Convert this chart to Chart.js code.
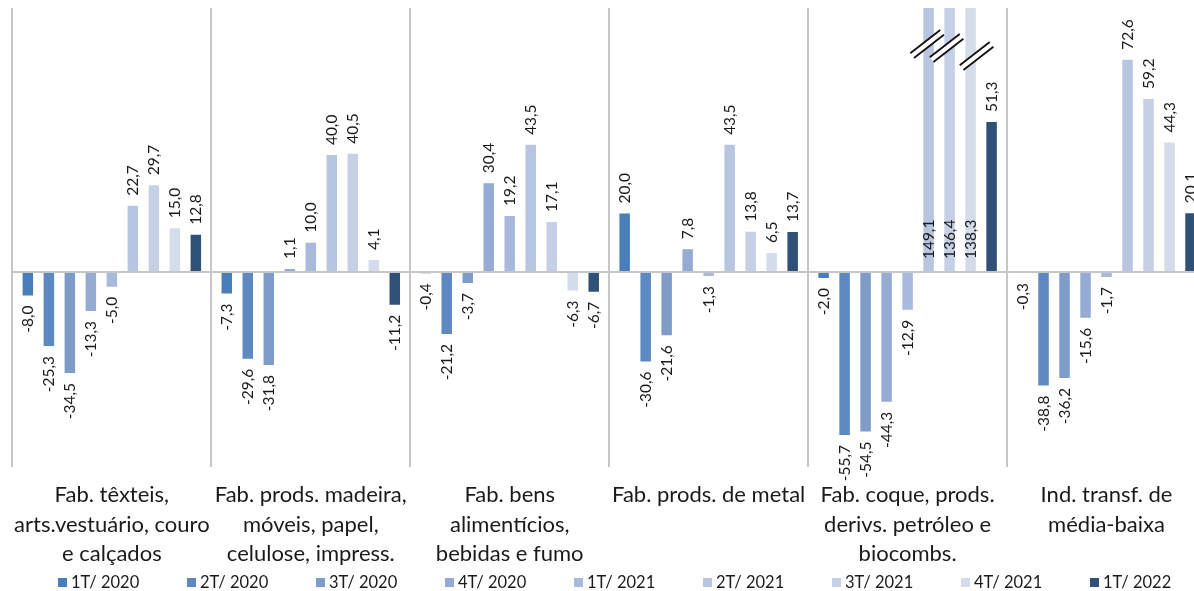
<!DOCTYPE html>
<html>
<head>
<meta charset="utf-8">
<script src="https://cdn.jsdelivr.net/npm/chart.js@4.4.0/dist/chart.umd.min.js"></script>
<style>
  html, body { margin: 0; padding: 0; background: #fff; overflow: hidden; }
  #wrap { position: relative; width: 1194px; height: 591px; overflow: hidden; }
  #box { position: absolute; left: 0; top: 0; width: 1230px; height: 591px; }
  #legend { position: absolute; left: 58px; top: 572px; display: flex; font-family: Lato; font-size: 16.5px; color: #1a1a1a; white-space: nowrap; }
  .item { width: 129px; height: 20px; display: flex; align-items: center; }
  .sw { width: 9px; height: 9px; margin-right: 4px; flex: none; }
</style>
</head>
<body>
<div id="wrap">
  <div id="box"><canvas id="chart" width="1230" height="591"></canvas></div>
  <div id="legend"></div>
</div>
<script>
const sectors = [
    ['Fab. têxteis,', 'arts.vestuário, couro', 'e calçados'],
    ['Fab. prods. madeira,', 'móveis, papel,', 'celulose, impress.'],
    ['Fab. bens', 'alimentícios,', 'bebidas e fumo'],
    ['Fab. prods. de metal'],
    ['Fab. coque, prods.', 'derivs. petróleo e', 'biocombs.'],
    ['Ind. transf. de', 'média-baixa']
]

const periods = ['1T/ 2020', '2T/ 2020', '3T/ 2020', '4T/ 2020', '1T/ 2021', '2T/ 2021', '3T/ 2021', '4T/ 2021', '1T/ 2022']

// one array per quarter, in sector order
const q1_2020 = [-8.0, -7.3, -0.4, 20.0, -2.0, -0.3]
const q2_2020 = [-25.3, -29.6, -21.2, -30.6, -55.7, -38.8]
const q3_2020 = [-34.5, -31.8, -3.7, -21.6, -54.5, -36.2]
const q4_2020 = [-13.3, 1.1, 30.4, 7.8, -44.3, -15.6]
const q1_2021 = [-5.0, 10.0, 19.2, -1.3, -12.9, -1.7]
const q2_2021 = [22.7, 40.0, 43.5, 43.5, 149.1, 72.6]
const q3_2021 = [29.7, 40.5, 17.1, 13.8, 136.4, 59.2]
const q4_2021 = [15.0, 4.1, -6.3, 6.5, 138.3, 44.3]
const q1_2022 = [12.8, -11.2, -6.7, 13.7, 51.3, 20.1]

const quarters = [q1_2020, q2_2020, q3_2020, q4_2020, q1_2021, q2_2021, q3_2021, q4_2021, q1_2022]
const colors = ['#4a7ebb', '#5d88c1', '#7f9cc9', '#95abd3', '#a8b9db', '#b8c5e0', '#c5cfe5', '#d4dbea', '#2f5077']

// axis is cut at the top, the coke/petroleum bars go off scale
const yMin = -66.6
const yMax = 90.3

const fmt = v => v.toFixed(1).replace('.', ',')

// value labels, turned 90 degrees, above/below each bar
const barLabels = {
    id: 'barLabels',
    afterDatasetsDraw(chart) {
        const ctx = chart.ctx
        ctx.save()
        ctx.font = '15.5px Lato'
        ctx.fillStyle = '#1a1a1a'
        ctx.textBaseline = 'middle'
        chart.data.datasets.forEach((ds, i) => {
            chart.getDatasetMeta(i).data.forEach((bar, j) => {
                const v = ds.data[j]
                let y, align
                if (v > yMax) {
                    y = bar.base - 12
                    align = 'left'
                } else if (v >= 0) {
                    y = bar.y - 10
                    align = 'left'
                } else {
                    y = bar.y + 10
                    align = 'right'
                }
                ctx.save()
                ctx.translate(bar.x, y)
                ctx.rotate(-Math.PI / 2)
                ctx.textAlign = align
                ctx.fillText(fmt(v), 0, 0)
                ctx.restore()
            })
        })
        ctx.restore()
    }
}

// little double-slash marks on the bars that run past the top
const breakMarks = {
    id: 'breakMarks',
    afterDatasetsDraw(chart) {
        const ctx = chart.ctx
        const top = chart.chartArea.top
        const shiftX = [-1.5, -3, 6]
        const shiftY = [36, 40, 48]
        let k = 0
        chart.data.datasets.forEach((ds, i) => {
            chart.getDatasetMeta(i).data.forEach((bar, j) => {
                if (ds.data[j] <= yMax) return
                const n = Math.min(k, 2)
                drawBreak(ctx, bar.x + shiftX[n], top + shiftY[n])
                k++
            })
        })
    }
}

function drawBreak(ctx, cx, cy) {
    const ang = 38 * Math.PI / 180
    const half = 19
    const dx = Math.cos(ang) * half, dy = Math.sin(ang) * half
    const nx = Math.sin(ang) * 3, ny = Math.cos(ang) * 3
    ctx.save()
    ctx.lineCap = 'butt'
    ctx.strokeStyle = '#fff'
    ctx.lineWidth = 6
    ctx.beginPath()
    ctx.moveTo(cx - dx, cy + dy)
    ctx.lineTo(cx + dx, cy - dy)
    ctx.stroke()
    ctx.strokeStyle = '#111'
    ctx.lineWidth = 1.8
    for (const s of [-1, 1]) {
        ctx.beginPath()
        ctx.moveTo(cx - dx + s * nx, cy + dy + s * ny)
        ctx.lineTo(cx + dx + s * nx, cy - dy + s * ny)
        ctx.stroke()
    }
    ctx.restore()
}

const datasets = quarters.map((values, i) => ({
    label: periods[i],
    data: values,
    backgroundColor: colors[i],
    borderWidth: 0,
    categoryPercentage: 0.95,
    barPercentage: 0.5
}))

const ctx = document.getElementById('chart').getContext('2d')
const myChart = new Chart(ctx, {
    type: 'bar',
    data: { labels: sectors, datasets: datasets },
    options: {
        responsive: false,
        animation: false,
        events: [],
        layout: { padding: { left: 1, right: 24, top: 8, bottom: 9 } },
        plugins: {
            legend: { display: false },
            tooltip: { enabled: false }
        },
        scales: {
            x: {
                border: { display: false },
                grid: { color: '#c6c6c6', lineWidth: 2, drawTicks: false },
                ticks: {
                    autoSkip: false,
                    maxRotation: 0,
                    padding: 14,
                    color: '#1a1a1a',
                    font: { family: 'Lato', size: 22, lineHeight: 1.32 }
                }
            },
            y: {
                min: yMin,
                max: yMax,
                border: { display: false },
                grid: {
                    drawTicks: false,
                    lineWidth: 2,
                    color: c => (c.tick && c.tick.value === 0) ? '#c6c6c6' : 'rgba(0,0,0,0)'
                },
                ticks: { display: false, stepSize: 10 }
            }
        }
    },
    plugins: [barLabels, breakMarks]
})

// legend as a plain row under the canvas
const legend = document.getElementById('legend')
periods.forEach((p, i) => {
    const item = document.createElement('div')
    item.className = 'item'
    const sw = document.createElement('span')
    sw.className = 'sw'
    sw.style.background = colors[i]
    const txt = document.createElement('span')
    txt.textContent = p
    item.appendChild(sw)
    item.appendChild(txt)
    legend.appendChild(item)
})
</script>
</body>
</html>
